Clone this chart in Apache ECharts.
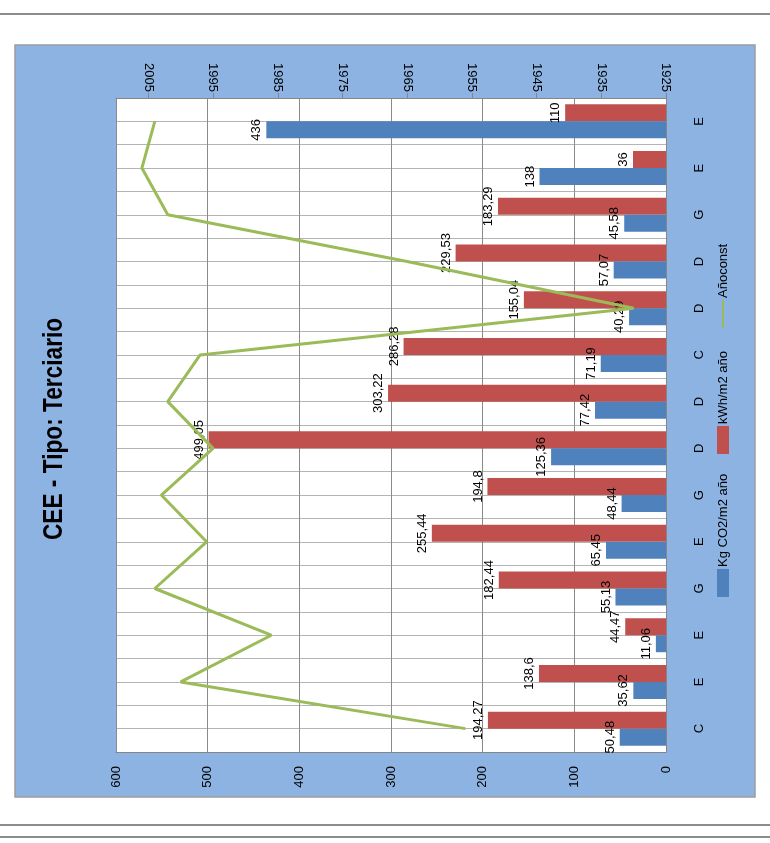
<!DOCTYPE html>
<html>
<head>
<meta charset="utf-8">
<script src="https://cdn.jsdelivr.net/npm/echarts@6/dist/echarts.min.js"></script>
<style>
html, body { margin: 0; padding: 0; background: #fff; }
#chart { width: 770px; height: 843px; }
</style>
</head>
<body>
<div id="chart"></div>
<script>
// categories from bottom to top (chart is drawn turned on its side)
const categories = ['C', 'E', 'E', 'G', 'E', 'G', 'D', 'D', 'C', 'D', 'D', 'G', 'E', 'E'];
const kgCO2 = [50.48, 35.62, 11.06, 55.13, 65.45, 48.44, 125.36, 77.42, 71.19, 40.29, 57.07, 45.58, 138, 436];
const kwh = [194.27, 138.6, 44.47, 182.44, 255.44, 194.8, 499.05, 303.22, 286.28, 155.04, 229.53, 183.29, 36, 110];
const anoConst = [1956, 2000, 1986, 2004, 1996, 2003, 1995, 2002, 1997, 1930, 1965, 2002, 2006, 2004];

const valueMax = 600;
const valueStep = 100;
const yearMin = 1925;   // first year tick
const yearSpan = 85;    // axis runs 1925 .. 2010
const yearStep = 10;

const FONT = "'Liberation Sans', Arial, sans-serif";
const BLUE = '#4F81BD', RED = '#C0504D', GREEN = '#9BBB59';

const fmt = v => String(v).replace('.', ',');

const barLabel = {
    show: true,
    position: 'left',
    rotate: 90,
    align: 'center',
    verticalAlign: 'bottom',
    distance: 3,
    fontFamily: FONT,
    fontSize: 13,
    color: '#000',
    formatter: p => fmt(p.value)
};

const chart = echarts.init(document.getElementById('chart'));

chart.setOption({
    backgroundColor: '#fff',
    animation: false,
    graphic: [
        { type: 'line', z: -100, shape: { x1: 0, y1: 14, x2: 770, y2: 14 }, style: { stroke: '#8c8c8c', lineWidth: 2 } },
        { type: 'line', z: -100, shape: { x1: 0, y1: 825, x2: 770, y2: 825 }, style: { stroke: '#8c8c8c', lineWidth: 2 } },
        { type: 'line', z: -100, shape: { x1: 0, y1: 837, x2: 770, y2: 837 }, style: { stroke: '#8c8c8c', lineWidth: 2 } },
        { type: 'rect', z: -100, shape: { x: 15, y: 45, width: 740, height: 752 }, style: { fill: '#8DB3E2', stroke: '#9c9c9c', lineWidth: 1.5 } },
        {
            // narrowed bold title, like the condensed face of the original
            type: 'text', x: 55, y: 429, rotation: Math.PI / 2, scaleX: 0.84,
            style: { text: 'CEE - Tipo: Terciario', font: 'bold 27px ' + FONT, fill: '#000', align: 'center', verticalAlign: 'middle' }
        },
        // legend, turned like the rest of the chart
        { type: 'rect', shape: { x: 717, y: 569, width: 12, height: 28 }, style: { fill: BLUE } },
        {
            type: 'text', x: 723, y: 567, rotation: Math.PI / 2,
            style: { text: 'Kg CO2/m2 año', font: '13px ' + FONT, fill: '#000', align: 'left', verticalAlign: 'middle' }
        },
        { type: 'rect', shape: { x: 717, y: 426, width: 12, height: 28 }, style: { fill: RED } },
        {
            type: 'text', x: 723, y: 424, rotation: Math.PI / 2,
            style: { text: 'kWh/m2 año', font: '13px ' + FONT, fill: '#000', align: 'left', verticalAlign: 'middle' }
        },
        { type: 'line', shape: { x1: 723, y1: 300, x2: 723, y2: 328 }, style: { stroke: GREEN, lineWidth: 2 } },
        {
            type: 'text', x: 723, y: 298, rotation: Math.PI / 2,
            style: { text: 'Añoconst', font: '13px ' + FONT, fill: '#000', align: 'left', verticalAlign: 'middle' }
        }
    ],
    grid: {
        left: 116, right: 104, top: 98, bottom: 91,
        show: true, backgroundColor: '#fff', borderWidth: 0
    },
    xAxis: [
        {
            type: 'value', position: 'bottom', inverse: true,
            min: 0, max: valueMax, interval: valueStep,
            axisLine: { show: true, lineStyle: { color: '#868686' } },
            axisTick: { show: false },
            axisLabel: { rotate: 90, margin: 14, fontFamily: FONT, fontSize: 13, color: '#000' },
            splitLine: { show: true, lineStyle: { color: '#8a8a8a', width: 1 } }
        },
        {
            type: 'value', position: 'top', inverse: true,
            min: 0, max: yearSpan, interval: yearStep,
            axisLine: { show: true, lineStyle: { color: '#868686' } },
            axisTick: { show: true, length: 5, lineStyle: { color: '#868686' } },
            axisLabel: {
                rotate: 90, margin: 6, fontFamily: FONT, fontSize: 13, color: '#000',
                showMaxLabel: false,
                formatter: v => (v % yearStep === 0 ? String(v + yearMin) : '')
            },
            splitLine: { show: false }
        }
    ],
    yAxis: [
        {
            type: 'category', position: 'right', data: categories,
            axisLine: { show: true, lineStyle: { color: '#868686' } },
            axisTick: { show: false },
            axisLabel: { rotate: 90, margin: 27, fontFamily: FONT, fontSize: 13, color: '#000' },
            splitLine: { show: false }
        },
        {
            // only there for the half-category grid lines
            type: 'value', position: 'left', min: 0, max: categories.length * 2, interval: 1,
            axisLine: { show: false }, axisTick: { show: false }, axisLabel: { show: false },
            splitLine: { show: true, lineStyle: { color: '#b4b4b4', width: 1 } }
        }
    ],
    series: [
        {
            name: 'kWh/m2 año', type: 'bar', xAxisIndex: 0, yAxisIndex: 0,
            data: kwh, barWidth: 17, barGap: '0%',
            itemStyle: { color: RED }, label: barLabel
        },
        {
            name: 'Kg CO2/m2 año', type: 'bar', xAxisIndex: 0, yAxisIndex: 0,
            data: kgCO2, barWidth: 17, barGap: '0%',
            itemStyle: { color: BLUE }, label: barLabel
        },
        {
            name: 'Añoconst', type: 'line', xAxisIndex: 1, yAxisIndex: 0,
            data: anoConst.map(y => y - yearMin),
            symbol: 'none', z: 5,
            lineStyle: { color: GREEN, width: 3 }
        }
    ]
});
</script>
</body>
</html>
